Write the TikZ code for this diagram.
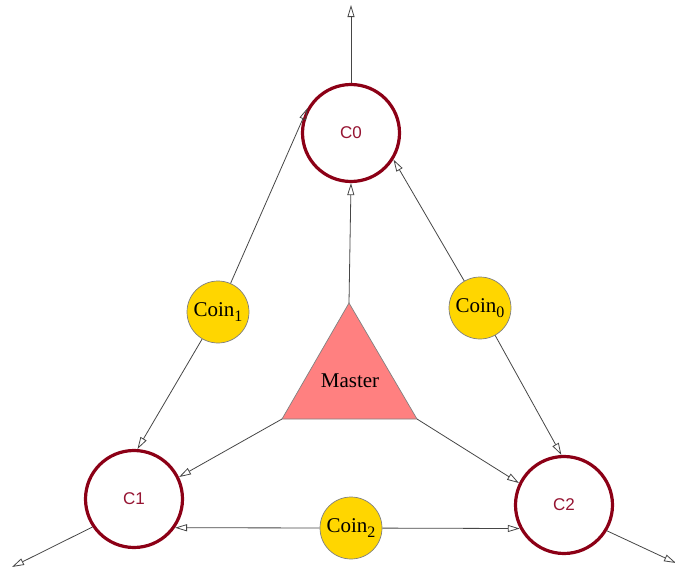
\documentclass[tikz,border=0pt]{standalone}
\usepackage{fontspec}
\setmainfont{Liberation Serif}
\newfontfamily\labelfont{Liberation Sans}
\usetikzlibrary{arrows.meta,shapes.geometric}
\definecolor{ringred}{RGB}{140,0,22}
\definecolor{labelred}{RGB}{150,20,50}
\definecolor{coingold}{RGB}{255,214,0}
\definecolor{masterfill}{RGB}{255,128,128}
\definecolor{edgegray}{RGB}{70,70,70}
\newcommand{\coinlabel}[1]{Coin\raisebox{-5pt}{\fontsize{16}{16}\selectfont #1}}
\tikzset{
  chan/.style={circle, draw=ringred, line width=3.2pt, fill=white,
    minimum size=97pt, inner sep=0pt,
    font=\labelfont\fontsize{17}{17}\selectfont, text=labelred},
  coin/.style={circle, draw=gray, line width=0.7pt, fill=coingold,
    minimum size=62pt, inner sep=0pt, font=\fontsize{21}{21}\selectfont},
  link/.style={draw=edgegray, line width=0.8pt,
    -{Triangle[open, length=12pt, width=7pt, line width=0.8pt]}},
}
\begin{document}
\begin{tikzpicture}[x=1pt, y=-1pt]
\useasboundingbox (0,0) rectangle (675,570);

% channel nodes
\node[chan] (c0) at (351,133) {C0};
\node[chan] (c1) at (134,499) {C1};
\node[chan] (c2) at (564,505) {C2};

% coins
\node[coin] (k1) at (218,312) {\coinlabel{1}};
\node[coin] (k0) at (480,308) {\coinlabel{0}};
\node[coin] (k2) at (351,528) {\coinlabel{2}};

% master triangle
\coordinate (mt) at (349,303);
\coordinate (ml) at (282,419);
\coordinate (mr) at (417,419);
\filldraw[fill=masterfill, draw=gray, line width=0.7pt] (mt) -- (ml) -- (mr) -- cycle;
\node[font=\fontsize{21}{21}\selectfont] (master) at (350,381) {Master};

% free ends of the outgoing links
\coordinate (o0) at (351,5);
\coordinate (o1) at (12,567);
\coordinate (o2) at (676,563);

% master to channels
\draw[link] (mt) -- (c0.south);
\draw[link] (ml) -- (c1.26);
\draw[link] (mr) -- (c2.154);

% coins to channels
\draw[link] (k1) -- (c0.150);
\draw[link] (k1) -- (c1.86);
\draw[link] (k0) -- (c0.-32);
\draw[link] (k0) -- (c2.93);
\draw[link] (k2) -- (c1.-35);
\draw[link] (k2) -- (c2.-152);

% outgoing links
\draw[link] (c0.north) -- (o0);
\draw[link] (c1.214) -- (o1);
\draw[link] (c2.-31) -- (o2);
\end{tikzpicture}
\end{document}
